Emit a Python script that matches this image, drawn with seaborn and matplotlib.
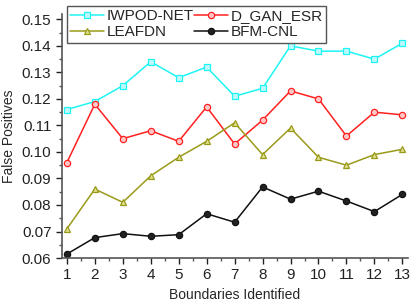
import matplotlib
matplotlib.use("Agg")

import matplotlib.pyplot as plt
import numpy as np
import pandas as pd
import seaborn as sns
from matplotlib.ticker import MultipleLocator

boundaries = list(range(1, 14))
iwpod_net = [0.116, 0.119, 0.125, 0.134, 0.128, 0.132, 0.121, 0.124, 0.140, 0.138, 0.138, 0.135, 0.141]
d_gan_esr = [0.096, 0.118, 0.105, 0.108, 0.104, 0.117, 0.103, 0.112, 0.123, 0.120, 0.106, 0.115, 0.114]
leafdn = [0.071, 0.086, 0.081, 0.091, 0.098, 0.104, 0.111, 0.099, 0.109, 0.098, 0.095, 0.099, 0.101]
bfm_cnl = [0.0615, 0.0677, 0.0692, 0.0682, 0.0688, 0.0767, 0.0735, 0.0868, 0.0822, 0.0852, 0.0815, 0.0775, 0.0840]

series = ["IWPOD-NET", "D_GAN_ESR", "LEAFDN", "BFM-CNL"]
colors = {"IWPOD-NET": "#1ef4f4", "D_GAN_ESR": "#ff2020", "LEAFDN": "#9a9a1a", "BFM-CNL": "#111111"}
markers = {"IWPOD-NET": "s", "D_GAN_ESR": "o", "LEAFDN": "^", "BFM-CNL": "o"}
faces = {"IWPOD-NET": "#bff8ff", "D_GAN_ESR": "#ffc8c8", "LEAFDN": "#e0e090", "BFM-CNL": "#222222"}

df = pd.DataFrame({
    "Boundaries Identified": boundaries * 4,
    "False Positives": iwpod_net + d_gan_esr + leafdn + bfm_cnl,
    "Method": sum([[s] * len(boundaries) for s in series], []),
})

sns.set_style("ticks")
plt.rcParams["font.family"] = ["Liberation Sans", "DejaVu Sans"]

fig = plt.figure(figsize=(4.15, 3.05), dpi=100)
ax = fig.add_axes([0.149, 0.154, 0.834, 0.8])

for s in series:
    sub = df[df["Method"] == s]
    sns.lineplot(data=sub, x="Boundaries Identified", y="False Positives", ax=ax,
                 color=colors[s], marker=markers[s], markersize=4.5,
                 markerfacecolor=faces[s], markeredgecolor=colors[s],
                 markeredgewidth=0.9, linewidth=1.1, label=s)

ax.set_xlim(0.82, 13.2)
ax.set_ylim(0.06, 0.152)
ax.set_xticks(boundaries)
ax.xaxis.set_minor_locator(MultipleLocator(0.5))
ax.yaxis.set_major_locator(MultipleLocator(0.01))
ax.yaxis.set_minor_locator(MultipleLocator(0.005))
ax.yaxis.set_major_formatter(matplotlib.ticker.FormatStrFormatter("%.2f"))
ax.tick_params(which="major", direction="out", length=4, width=1, labelsize=11, colors="#222222")
ax.tick_params(which="minor", direction="out", length=2, width=1, colors="#555555")
ax.set_xlabel("Boundaries Identified", fontsize=10, labelpad=4)
ax.set_ylabel("False Positives", fontsize=10, labelpad=4)

for side in ["top", "right"]:
    ax.spines[side].set_visible(False)
for side in ["left", "bottom"]:
    ax.spines[side].set_color("#555555")
    ax.spines[side].set_linewidth(1.2)

ax.get_legend().remove()
handles, labels = ax.get_legend_handles_labels()
order = [0, 2, 1, 3]
leg = fig.legend([handles[i] for i in order], [labels[i] for i in order], ncol=2,
                 loc="upper left", bbox_to_anchor=(0.162, 0.98), borderaxespad=0,
                 fontsize=11, frameon=True, fancybox=False, framealpha=1, handlelength=2.2,
                 handletextpad=0.2, columnspacing=0.0, borderpad=0.2, labelspacing=0.15)
leg.get_frame().set_edgecolor("#555555")
leg.get_frame().set_linewidth(1)

fig.savefig("out.png", dpi=100)
